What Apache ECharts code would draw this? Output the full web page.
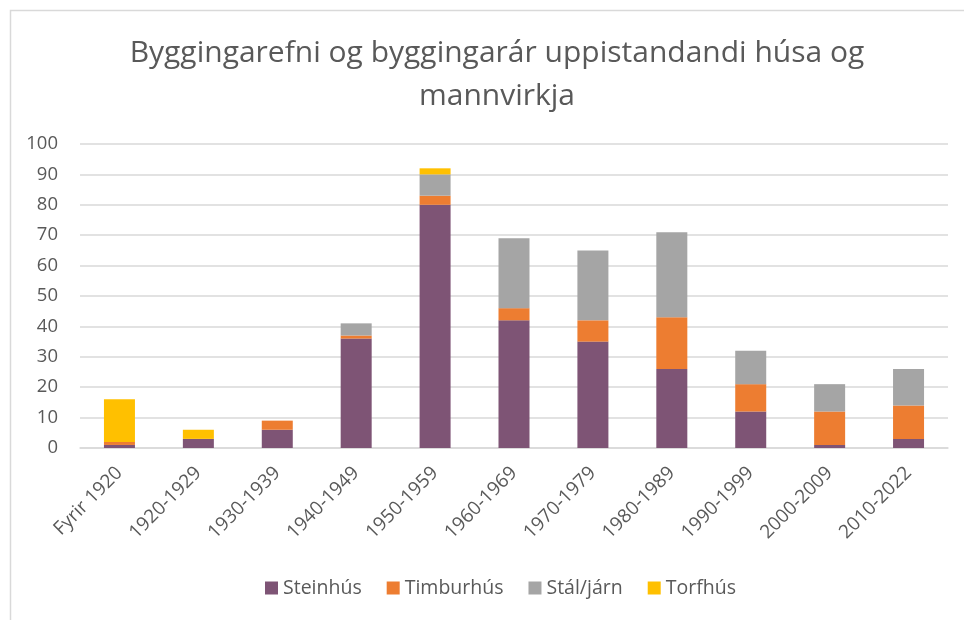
<!DOCTYPE html>
<html>
<head>
<meta charset="utf-8">
<script src="https://cdn.jsdelivr.net/npm/echarts@6/dist/echarts.min.js"></script>
<style>
html,body{margin:0;padding:0;background:#fff;}
#chart{width:964px;height:620px;}
</style>
</head>
<body>
<div id="chart"></div>
<script>
var categories = ['Fyrir 1920','1920-1929','1930-1939','1940-1949','1950-1959','1960-1969','1970-1979','1980-1989','1990-1999','2000-2009','2010-2022'];
var steinhus  = [1, 3, 6, 36, 80, 42, 35, 26, 12, 1, 3];
var timburhus = [1, 0, 3, 1, 3, 4, 7, 17, 9, 11, 11];
var staljarn  = [0, 0, 0, 4, 7, 23, 23, 28, 11, 9, 12];
var torfhus   = [14, 3, 0, 0, 2, 0, 0, 0, 0, 0, 0];
var seriesNames = ['Steinhús','Timburhús','Stál/járn','Torfhús'];
var yTicks = [0,10,20,30,40,50,60,70,80,90,100];

var FONT = 'Open Sans';
var TXT = '#595959';
var colors = ['#7E5475','#ED7D31','#A5A5A5','#FFC000'];
var dataSets = [steinhus, timburhus, staljarn, torfhus];

var chart = echarts.init(document.getElementById('chart'));
chart.setOption({
  animation: false,
  backgroundColor: '#fff',
  textStyle: {fontFamily: FONT},
  graphic: [{
    type: 'rect', left: 8, top: 8, silent: true,
    shape: {width: 1000, height: 700},
    style: {fill: 'none', stroke: '#d9d9d9', lineWidth: 1.5}
  }],
  title: {
    text: 'Byggingarefni og byggingarár uppistandandi húsa og\nmannvirkja',
    left: 492, top: 27,
    textAlign: 'center',
    textStyle: {fontFamily: FONT, fontSize: 30, fontWeight: 'normal', color: TXT, lineHeight: 43, align: 'center'}
  },
  legend: {
    bottom: 17, left: 260,
    itemWidth: 13, itemHeight: 13, itemGap: 25,
    icon: 'rect',
    textStyle: {fontFamily: FONT, fontSize: 19.5, color: TXT},
    data: seriesNames
  },
  grid: {left: 80, right: 16, top: 144, bottom: 172, containLabel: false},
  xAxis: {
    type: 'category', data: categories,
    axisLine: {lineStyle: {color: '#d9d9d9', width: 1.5}},
    axisTick: {show: false},
    axisLabel: {rotate: 45, color: TXT, fontSize: 19, fontFamily: FONT, margin: 22, interval: 0}
  },
  yAxis: {
    type: 'value', min: 0, max: 100, interval: 10,
    axisLine: {show: false}, axisTick: {show: false},
    splitLine: {lineStyle: {color: '#d9d9d9', width: 1.5}},
    axisLabel: {color: TXT, fontSize: 18.5, fontFamily: FONT, margin: 22,
      formatter: function(v){ return yTicks.indexOf(v) >= 0 ? String(v) : ''; }}
  },
  series: seriesNames.map(function(n, i){
    return {
      name: n, type: 'bar', stack: 'total', data: dataSets[i],
      barWidth: 31,
      itemStyle: {color: colors[i]}
    };
  })
});
</script>
</body>
</html>
